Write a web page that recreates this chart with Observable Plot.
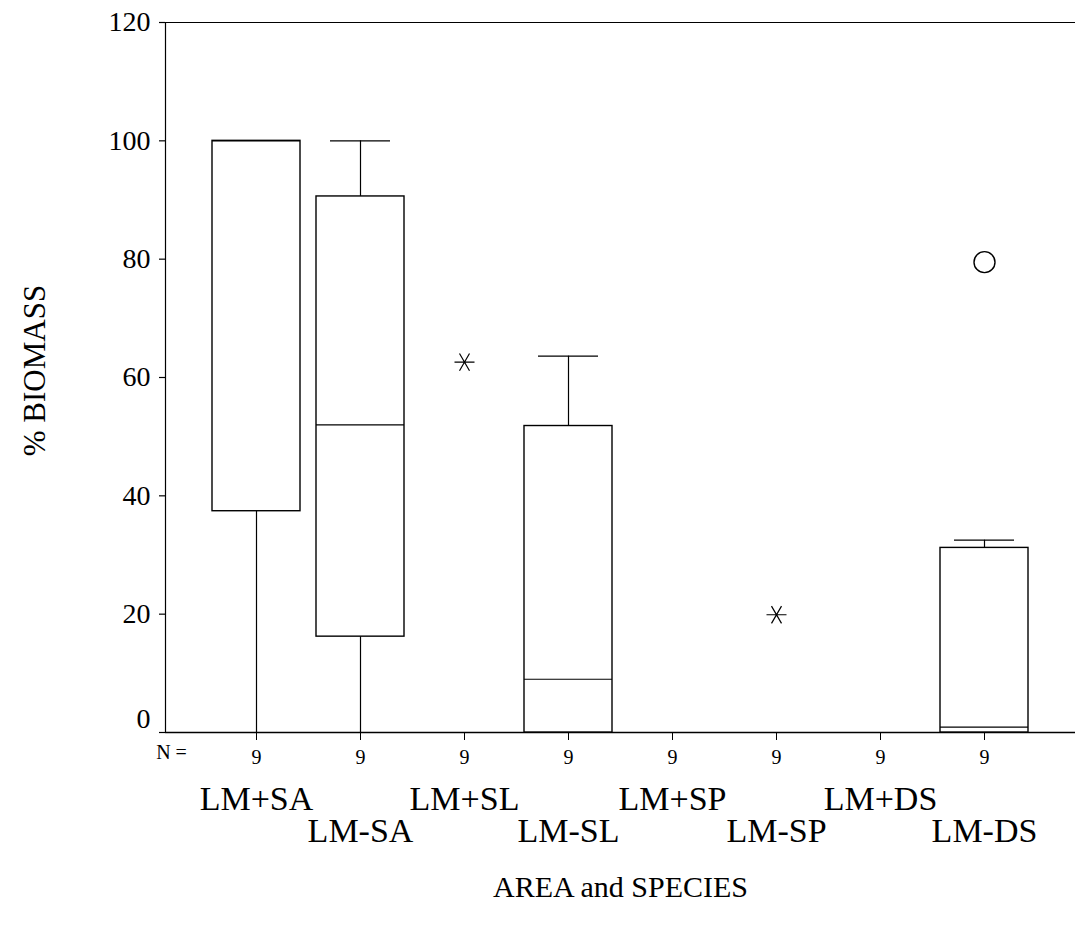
<!DOCTYPE html>
<html>
<head>
<meta charset="utf-8">
<script src="https://cdn.jsdelivr.net/npm/d3@7"></script>
<script src="https://cdn.jsdelivr.net/npm/@observablehq/plot@0.6"></script>
<style>
  html, body { margin: 0; padding: 0; background: #fff; }
</style>
</head>
<body>
<div id="chart"></div>
<script>
// ---- data ----
const categories = ["LM+SA", "LM-SA", "LM+SL", "LM-SL", "LM+SP", "LM-SP", "LM+DS", "LM-DS"];
const nValues    = [9, 9, 9, 9, 9, 9, 9, 9];
const lowWhisker = [0, 0, 0, 0, 0, 0, 0, 0];
const q1         = [37.4, 16.2, 0, 0, 0, 0, 0, 0];
const medians    = [100, 52, 0, 9, 0, 0, 0, 0.9];
const q3         = [100, 90.6, 0, 51.8, 0, 0, 0, 31.2];
const highWhisker= [100, 100, 0, 63.6, 0, 0, 0, 32.5];
const extremeCats = ["LM+SL", "LM-SP"];
const extremeVals = [62.6, 19.9];
const outlierCats = ["LM-DS"];
const outlierVals = [79.5];
const yTicks = [0, 20, 40, 60, 80, 100, 120];
const yLabel = "% BIOMASS";
const xLabel = "AREA and SPECIES";

const stats = categories.map((c, i) => ({
  cat: c, n: nValues[i], lo: lowWhisker[i], q1: q1[i], med: medians[i], q3: q3[i], hi: highWhisker[i], row: i % 2
}));
const extremes = extremeCats.map((c, i) => ({cat: c, v: extremeVals[i]}));
const outliers = outlierCats.map((c, i) => ({cat: c, v: outlierVals[i]}));

// SPSS-style asterisk: horizontal bar plus an X
const spssAsterisk = {
  draw(context, size) {
    const r = Math.sqrt(size / Math.PI);
    const cx = r * Math.cos(Math.PI / 3), sy = r * Math.sin(Math.PI / 3);
    context.moveTo(-r, 0); context.lineTo(r, 0);
    context.moveTo(-cx, -sy); context.lineTo(cx, sy);
    context.moveTo(-cx, sy); context.lineTo(cx, -sy);
  }
};

const font = "'Liberation Serif', 'Times New Roman', serif";

const chart = Plot.plot({
  width: 1075,
  height: 936,
  marginLeft: 165,
  marginRight: 0,
  marginTop: 22,
  marginBottom: 204,
  style: {fontFamily: font, background: "#fff", color: "#000"},
  x: {type: "band", domain: categories, paddingInner: 0.153, paddingOuter: 0.414, label: null},
  y: {domain: [0, 120], label: null},
  marks: [
    // frame lines
    Plot.ruleY([120], {stroke: "#000", strokeWidth: 1.2}),
    Plot.frame({anchor: "left", stroke: "#000", strokeWidth: 1.2}),
    Plot.ruleY([0], {stroke: "#000", strokeWidth: 1.6}),
    // y axis
    Plot.axisY(yTicks, {
      tickSize: 6, tickPadding: 9, fontSize: 28, stroke: "#000", strokeWidth: 1.2,
      tickFormat: d => d === 0 ? "" : String(d), label: null
    }),
    Plot.text([0], {y: d => d, frameAnchor: "left", dx: -15, dy: -13, textAnchor: "end", fontSize: 28, text: d => String(d)}),
    // x axis with N values
    Plot.axisX(categories, {
      tickSize: 8, tickPadding: 9, fontSize: 20, stroke: "#000",
      tickFormat: (d) => String(nValues[categories.indexOf(d)]), label: null
    }),
    Plot.text(["N ="], {frameAnchor: "bottom-left", dx: 6, dy: 26, textAnchor: "middle", fontSize: 20}),
    // category labels in two rows
    Plot.text(stats.filter(d => d.row === 0), {x: "cat", text: "cat", frameAnchor: "bottom", dy: 77, fontSize: 34}),
    Plot.text(stats.filter(d => d.row === 1), {x: "cat", text: "cat", frameAnchor: "bottom", dy: 109, fontSize: 34}),
    // axis titles
    Plot.text([yLabel], {frameAnchor: "left", rotate: -90, dx: -130, dy: -7, textAnchor: "middle", fontSize: 31}),
    Plot.text([xLabel], {frameAnchor: "bottom", dy: 164, textAnchor: "middle", fontSize: 30}),
    // whiskers
    Plot.ruleX(stats, {x: "cat", y1: "lo", y2: "q1", stroke: "#000", strokeWidth: 1.2}),
    Plot.ruleX(stats, {x: "cat", y1: "q3", y2: "hi", stroke: "#000", strokeWidth: 1.2}),
    Plot.tickY(stats, {x: "cat", y: "hi", insetLeft: 14, insetRight: 14, stroke: "#000", strokeWidth: 1.2}),
    Plot.tickY(stats, {x: "cat", y: "lo", insetLeft: 14, insetRight: 14, stroke: "#000", strokeWidth: 1.2}),
    // boxes
    Plot.barY(stats, {x: "cat", y1: "q1", y2: "q3", fill: "#fff", stroke: "#000", strokeWidth: 1.4}),
    Plot.tickY(stats, {x: "cat", y: "med", stroke: "#000", strokeWidth: 1.2}),
    // extremes and outliers
    Plot.dot(extremes, {x: "cat", y: "v", symbol: spssAsterisk, r: 10, stroke: "#000", strokeWidth: 1.2}),
    Plot.dot(outliers, {x: "cat", y: "v", symbol: "circle", r: 10.5, fill: "#fff", stroke: "#000", strokeWidth: 1.4})
  ]
});
document.getElementById("chart").appendChild(chart);
</script>
</body>
</html>
